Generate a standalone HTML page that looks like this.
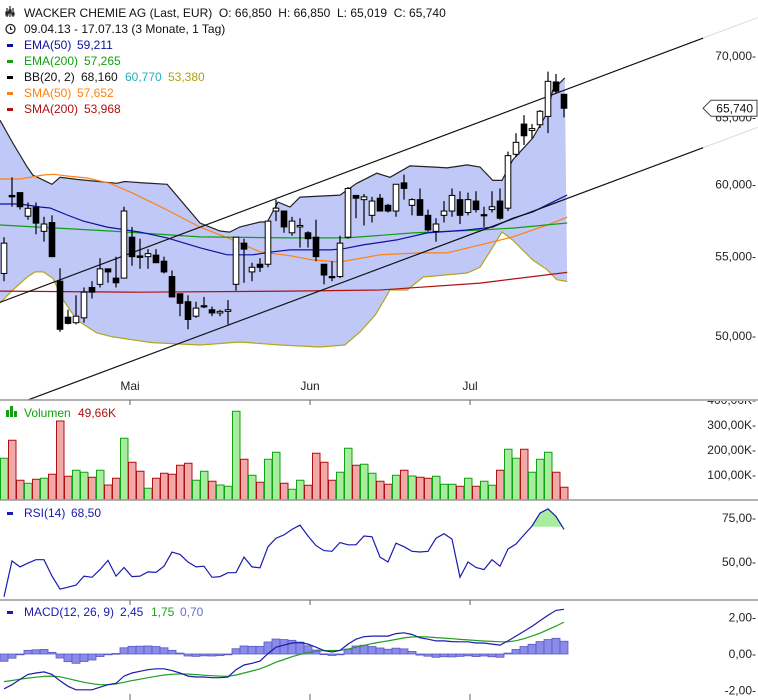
<!DOCTYPE html>
<html><head><meta charset="utf-8"><style>
html,body{margin:0;padding:0;background:#fff;width:758px;height:700px;overflow:hidden}
svg{display:block;font-family:"Liberation Sans",sans-serif}
svg text{white-space:pre}
</style></head><body>
<svg id="chart" width="758" height="700" viewBox="0 0 758 700" xmlns="http://www.w3.org/2000/svg">
<defs>
<clipPath id="pc"><rect x="0" y="0" width="758" height="400"/></clipPath>
<clipPath id="volClip"><rect x="0" y="401" width="758" height="299"/></clipPath>
</defs>
<g id="price" clip-path="url(#pc)"></g>
<g id="vol"></g>
<g id="rsi"></g>
<g id="macd"></g>
<g id="axes"></g>
<g font-size="12">
  <g stroke="#222" stroke-width="1.2">
    <line x1="7" y1="8" x2="7" y2="17"/><line x1="10" y1="6" x2="10" y2="17"/><line x1="13" y1="8" x2="13" y2="17"/>
    <rect x="6" y="12" width="2" height="3" fill="#222"/><rect x="9" y="10" width="2" height="3" fill="#222"/><rect x="12" y="13" width="2" height="2" fill="#222"/>
  </g>
  <text x="24" y="17" fill="#111">WACKER CHEMIE AG (Last, EUR)  O: 66,850  H: 66,850  L: 65,019  C: 65,740</text>
  <circle cx="10.5" cy="29" r="4.5" fill="none" stroke="#222" stroke-width="1.3"/>
  <path d="M10.5 26.5 V29.3 H12.5" fill="none" stroke="#222" stroke-width="1.2"/>
  <text x="24" y="33" fill="#111">09.04.13 - 17.07.13 (3 Monate, 1 Tag)</text>
  <rect x="7" y="44" width="6" height="3" fill="#1010a0"/>
  <text x="24" y="49" fill="#1010a0">EMA(50)<tspan x="77">59,211</tspan></text>
  <rect x="7" y="60" width="6" height="3" fill="#10a010"/>
  <text x="24" y="65" fill="#10a010">EMA(200)<tspan x="84">57,265</tspan></text>
  <rect x="7" y="76" width="6" height="3" fill="#000"/>
  <text x="24" y="81" fill="#111">BB(20, 2)<tspan x="81">68,160</tspan><tspan x="125" fill="#20b0c0">60,770</tspan><tspan x="168" fill="#b0a010">53,380</tspan></text>
  <rect x="7" y="92" width="6" height="3" fill="#ff8010"/>
  <text x="24" y="97" fill="#ff8010">SMA(50)<tspan x="77">57,652</tspan></text>
  <rect x="7" y="108" width="6" height="3" fill="#b01010"/>
  <text x="24" y="113" fill="#b01010">SMA(200)<tspan x="84">53,968</tspan></text>
</g>
<g font-size="12">
  <g fill="#10a010">
    <rect x="6" y="410" width="3" height="7"/><rect x="10" y="406" width="3" height="11"/><rect x="14" y="411" width="3" height="6"/>
  </g>
  <text x="24" y="417" fill="#10a010">Volumen<tspan x="78" fill="#b01010">49,66K</tspan></text>
  <rect x="7" y="512" width="6" height="3" fill="#1a1ab0"/>
  <text x="24" y="517" fill="#1a1ab0">RSI(14)<tspan x="71">68,50</tspan></text>
  <rect x="7" y="611" width="6" height="3" fill="#1a1ab0"/>
  <text x="24" y="616" fill="#1a1ab0">MACD(12, 26, 9)<tspan x="120">2,45</tspan><tspan x="151" fill="#20a020">1,75</tspan><tspan x="180" fill="#6a6ad0">0,70</tspan></text>
</g>
</svg>
<script>
// ---------- data ----------
const opens  = [53.9,59.2,59.4,57.74,58.36,56.7,57.3,53.4,51.14,50.8,51.1,53.0,53.2,54.2,53.6,53.6,56.3,55.05,55.0,55.1,54.7,53.7,52.6,52.1,51.2,51.85,51.6,51.4,51.5,53.2,55.9,54.0,54.5,54.5,58.1,58.1,56.6,57.0,56.6,56.3,54.5,53.7,53.7,56.3,59.2,58.9,57.8,59.0,58.5,58.1,60.1,58.5,58.9,57.8,56.7,57.8,58.1,58.9,58.0,58.8,57.85,58.2,58.8,58.3,62.2,64.5,64.0,64.45,65.1,67.85,66.85];
const highs  = [56.3,60.5,59.4,58.7,58.7,57.7,57.8,54.24,51.6,52.5,53.0,53.4,54.9,54.2,55.0,58.4,57.0,56.2,55.5,55.5,55.0,54.1,52.6,52.5,52.1,52.4,51.8,51.6,52.2,56.3,56.2,54.6,54.9,57.4,58.9,58.1,57.7,57.6,56.7,57.5,54.5,54.7,56.4,59.8,59.2,59.3,59.1,59.3,58.6,60.0,60.7,59.0,59.7,58.2,57.6,58.8,59.7,59.5,59.4,59.5,58.4,59.5,59.7,62.4,63.8,65.2,64.5,65.6,68.7,68.5,66.85];
const lows   = [53.4,58.4,58.2,57.5,56.5,56.0,55.0,50.25,50.7,50.7,50.8,52.3,53.0,53.3,53.0,53.6,54.4,54.2,54.2,54.6,53.9,52.4,51.2,50.4,51.1,51.7,51.2,51.2,50.7,52.8,53.3,53.4,54.0,54.3,57.4,56.6,56.4,55.6,55.6,54.7,53.2,53.4,53.6,56.2,57.6,57.1,57.3,58.1,58.0,57.7,58.9,57.8,57.8,56.7,56.0,57.3,57.7,57.2,57.8,58.0,57.0,58.0,57.5,58.1,62.0,62.9,63.4,64.2,63.8,66.9,65.02];
const closes = [55.9,59.1,58.4,58.29,57.26,57.2,55.0,50.4,50.76,51.2,52.7,52.7,54.2,54.0,53.3,58.1,55.0,54.95,55.2,54.6,54.0,52.4,52.0,51.0,51.7,51.8,51.4,51.5,51.6,56.3,55.5,54.3,54.3,57.4,58.3,57.0,57.4,57.1,56.2,55.0,53.8,53.65,55.9,59.7,59.0,59.1,58.8,58.1,58.1,60.0,59.7,58.9,57.8,56.8,57.2,58.1,59.2,57.8,58.9,58.2,57.8,58.4,57.6,62.1,63.1,63.6,64.15,65.5,67.9,67.1,65.74];
const volumes = [167,239,79,67,83,87,103,316,95,119,111,91,119,60,87,247,151,115,47,87,107,103,139,147,79,115,75,60,55,355,163,99,71,163,191,67,43,79,59,187,151,79,111,207,139,143,107,75,63,99,119,96,91,87,95,63,63,55,87,55,75,59,119,203,167,203,111,163,191,111,51];
const volUp = [1,0,0,1,0,1,0,0,0,1,1,0,1,0,0,1,0,0,1,0,0,0,0,0,1,1,0,1,1,1,0,1,0,1,1,0,1,1,0,0,0,0,1,1,0,1,1,0,0,1,0,1,0,0,1,1,1,0,1,0,1,1,0,1,1,0,1,1,1,0,0];
const rsiValues = [30.2,50.6,47.2,49.4,51.3,51.3,42,34.6,35.7,36.9,42,41.3,45.7,50.9,42,46.9,41.7,42,44.4,44.1,47.6,55.6,54.3,50,47.2,47.6,41.3,41.7,43.9,43.9,52.8,47.2,46.7,58.7,63.5,65.4,68.5,70.9,64.8,59.3,56.5,56.1,61.1,59.8,59.8,64.8,64.3,52.8,50,60.7,58.7,56.1,55.7,56.1,63.5,66.1,63,41.3,50,46.9,45.7,51.3,47.6,57.4,60.2,65.4,70.4,77.8,80.2,75.9,68.5];
const macdValues = [-1.91,-1.68,-1.39,-1.12,-1.04,-0.98,-1.12,-1.47,-1.77,-1.96,-1.96,-1.96,-1.82,-1.68,-1.61,-1.21,-1.04,-0.95,-0.86,-0.81,-0.81,-0.91,-1.04,-1.21,-1.26,-1.26,-1.3,-1.3,-1.26,-0.86,-0.6,-0.51,-0.39,0.02,0.37,0.49,0.6,0.63,0.54,0.37,0.19,0.11,0.19,0.54,0.81,0.95,0.98,0.98,0.98,1.12,1.16,1.07,0.89,0.81,0.72,0.72,0.68,0.67,0.67,0.6,0.6,0.54,0.49,0.72,0.98,1.25,1.51,1.82,2.12,2.39,2.45];
const signalValues = [-1.51,-1.45,-1.38,-1.32,-1.27,-1.23,-1.21,-1.25,-1.35,-1.45,-1.55,-1.63,-1.68,-1.68,-1.64,-1.55,-1.46,-1.38,-1.3,-1.22,-1.15,-1.11,-1.09,-1.1,-1.13,-1.16,-1.19,-1.21,-1.22,-1.15,-1.04,-0.93,-0.81,-0.64,-0.45,-0.3,-0.15,-0.02,0.09,0.15,0.18,0.19,0.2,0.27,0.37,0.47,0.57,0.65,0.72,0.8,0.88,0.93,0.95,0.93,0.9,0.87,0.84,0.8,0.77,0.74,0.71,0.69,0.67,0.67,0.73,0.84,0.98,1.14,1.33,1.53,1.75];
const bbUpperIdx = [-0.5,1.1,2.9,3.6,6,7,9.1,14.1,15.1,17.4,20.4,24.5,27,28.2,29.5,32,32.9,34.25,35.75,37,42,44.1,46.6,48.25,50.75,53.6,55.4,57.9,59.5,61.1,62.25,63.6,66.1,67.9,68.6,70.1];
const bbUpper    = [64.8,63.05,61.26,60.67,60.0,60.5,60.35,60.07,60.2,60.1,60.0,57.27,56.72,56.65,57.0,57.34,57.34,58.73,58.38,59.08,59.22,60.07,60.8,60.5,61.34,61.26,61.19,61.41,61.26,60.28,60.28,61.78,63.43,65.37,67.2,68.18];
const bbLowerIdx = [-0.5,1.1,2.9,3.9,4.9,6.1,7.4,9.1,11.6,13.6,18.5,24.5,29.5,34.5,39.5,42.6,44.5,46.4,47.6,48.25,50.4,52.4,57.9,59.5,61.1,62.25,63.6,66.1,67.9,69.1,70.4];
const bbLower    = [52.02,52.84,53.67,54.0,54.0,53.6,52.21,50.97,50.18,49.94,49.6,49.46,49.64,49.46,49.34,49.46,50.24,51.27,52.27,52.84,52.84,53.67,53.93,54.3,55.64,56.66,56.1,54.78,54.14,53.5,53.38];
const ema50Idx = [-0.5,2,4.5,5.75,7.9,9.9,12.9,17,20.4,24.5,27.9,31.1,33.6,35.75,40.75,42.4,44.9,49.1,52.9,57.9,61.1,63.6,66.1,69.1,70.4];
const ema50    = [58.59,58.59,58.38,58.31,57.82,57.4,56.99,56.65,56.25,55.59,55.12,55.12,55.32,55.45,55.45,55.52,55.78,56.12,56.59,56.79,56.99,57.6,58.04,58.87,59.22];
const ema200Idx = [-0.5,13.25,24.5,35.75,42.9,51.1,59.5,63.6,70.4];
const ema200    = [57.13,56.72,56.32,56.25,56.25,56.59,56.79,56.92,57.27];
const sma50Idx = [-0.5,2,4.9,6.25,7.9,10.4,13.25,16.1,20.4,24.5,28.6,32,35.75,38.6,42,47,52,55.4,59.5,63.6,67.9,70.4];
const sma50    = [60.38,60.38,60.67,60.72,60.6,60.45,60.07,59.36,58.17,56.99,56.12,55.32,55.06,54.78,54.65,55.12,55.25,55.25,55.78,56.32,57.13,57.67];
const sma200Idx = [-0.5,17,35.75,47,59.5,70.4];
const sma200    = [52.77,52.7,52.77,52.84,53.28,53.97];
const trendUpperIdx = [-0.5,87.4];
const trendUpper = [52.06,71.53];
const trendLowerIdx = [3,87.4];
const trendLower = [46.3,62.7];
const priceTicks = [70,65,60,55,50];
const priceTickLabels = ["70,000","65,000","60,000","55,000","50,000"];
const volTicks = [400,300,200,100];
const volTickLabels = ["400,00K","300,00K","200,00K","100,00K"];
const rsiTicks = [75,50];
const rsiTickLabels = ["75,00","50,00"];
const macdTicks = [2,0,-2];
const macdTickLabels = ["2,00","0,00","-2,00"];
const monthIdx = [15.75,38.25,58.25];
const monthLabels = ["Mai","Jun","Jul"];
const lastPrice = 65.74;
const rsiOverbought = 70;

// ---------- scales ----------
const X = i => 4 + 8*i;
const Yp = p => 56 + 832*Math.log(70/p);
const Yv = v => 500 - v*0.25;
const Yr = r => 518 + (75-r)*44/25;
const Ym = m => 654 - m*18.25;
const NS = "http://www.w3.org/2000/svg";
function mk(tag, attrs, parent){const e=document.createElementNS(NS,tag);for(const k in attrs)e.setAttribute(k,attrs[k]);parent.appendChild(e);return e;}
const fmt = (xs, ys, fy) => xs.map((v,i)=>X(v).toFixed(1)+","+fy(ys[i]).toFixed(1)).join(" ");

const gP = document.getElementById('price');
let bbPts = bbUpperIdx.map((v,i)=>X(v).toFixed(1)+","+Yp(bbUpper[i]).toFixed(1));
for(let i=bbLowerIdx.length-1;i>=0;i--) bbPts.push(X(bbLowerIdx[i]).toFixed(1)+","+Yp(bbLower[i]).toFixed(1));
let el = mk('polygon',{points:bbPts.join(" "),fill:"#c0c8f8",stroke:"none"},gP);


el = mk('polyline',{points:fmt(bbUpperIdx,bbUpper,Yp),fill:"none",stroke:"#222",'stroke-width':1.2},gP);


el = mk('polyline',{points:fmt(bbLowerIdx,bbLower,Yp),fill:"none",stroke:"#b0a818",'stroke-width':1.2},gP);


el = mk('polyline',{points:fmt(sma200Idx,sma200,Yp),fill:"none",stroke:"#b01010",'stroke-width':1.2},gP);


el = mk('polyline',{points:fmt(sma50Idx,sma50,Yp),fill:"none",stroke:"#ff8010",'stroke-width':1.2},gP);


el = mk('polyline',{points:fmt(ema200Idx,ema200,Yp),fill:"none",stroke:"#10a010",'stroke-width':1.2},gP);


el = mk('polyline',{points:fmt(ema50Idx,ema50,Yp),fill:"none",stroke:"#1010a0",'stroke-width':1.2},gP);


function trend(xs, ys, name){
  const x1=X(xs[0]),y1=Yp(ys[0]),x2=X(xs[1]),y2=Yp(ys[1]);
  const s=(y2-y1)/(x2-x1);
  let t = mk('line',{x1:x1,y1:y1,x2:x2,y2:y2,stroke:"#111",'stroke-width':1.2},gP);
  
  
  t = mk('line',{x1:x2,y1:y2,x2:758,y2:y2+s*(758-x2),stroke:"#ddd",'stroke-width':1},gP);
  
  
}
trend(trendUpperIdx,trendUpper,'upper-trend-line');
trend(trendLowerIdx,trendLower,'lower-trend-line');
for(let i=0;i<opens.length;i++){
  const x=X(i), up=closes[i]>=opens[i];
  const g=mk('g',{},gP);
  
  
  mk('line',{x1:x,y1:Yp(highs[i]),x2:x,y2:Yp(lows[i]),stroke:"#000",'stroke-width':1.2},g);
  const yt=Yp(Math.max(opens[i],closes[i])), yb=Yp(Math.min(opens[i],closes[i]));
  mk('rect',{x:x-2.8,y:yt,width:5.6,height:Math.max(1.2,yb-yt),fill:up?"#fff":"#000",stroke:"#000",'stroke-width':1},g);
}

const gV=document.getElementById('vol');
for(let i=0;i<volumes.length;i++){
  const up=volUp[i]===1, y=Math.max(401,Yv(volumes[i]));
  el = mk('rect',{x:X(i)-3.5,y:y,width:7.5,height:500-y,fill:up?"#a8eca0":"#f0a8a8",stroke:up?"#10a010":"#b01010",'stroke-width':1},gV);
  
  
}
const gR=document.getElementById('rsi');
// overbought fill: polygons for runs above threshold
let run=null;
const flush=()=>{ if(run && run.length>2){
  const p=mk('polygon',{points:run.map(q=>q[0].toFixed(1)+","+q[1].toFixed(1)).join(" "),fill:"#a8eca0",stroke:"none"},gR);
  
  
 } run=null; };
for(let i=0;i<rsiValues.length;i++){
  const v=rsiValues[i];
  if(i>0){
    const pv=rsiValues[i-1];
    if((pv-rsiOverbought)*(v-rsiOverbought)<0){
      const t=(rsiOverbought-pv)/(v-pv), cx=X(i-1+t), cy=Yr(rsiOverbought);
      if(v>rsiOverbought){ run=[[cx,cy]]; } else { run.push([cx,cy]); flush(); }
    }
  }
  if(v>rsiOverbought){ if(!run) run=[[X(i),Yr(rsiOverbought)]]; run.push([X(i),Yr(v)]); }
}
if(run){ run.push([X(rsiValues.length-1),Yr(rsiOverbought)]); flush(); }
el = mk('polyline',{points:rsiValues.map((v,i)=>X(i).toFixed(1)+","+Yr(v).toFixed(1)).join(" "),fill:"none",stroke:"#1a1ab0",'stroke-width':1.2},gR);


const gM=document.getElementById('macd');
for(let i=0;i<macdValues.length;i++){
  const h=macdValues[i]-signalValues[i];
  const y0=Ym(0), y1=Ym(h);
  el = mk('rect',{x:X(i)-4,y:Math.min(y0,y1),width:8,height:Math.max(0.8,Math.abs(y1-y0)),fill:"#8a8ae8",stroke:"#5a5ac8",'stroke-width':0.8},gM);
  
  
}
el = mk('polyline',{points:fmt(macdValues.map((v,i)=>i),signalValues,Ym),fill:"none",stroke:"#20a020",'stroke-width':1.2},gM);


el = mk('polyline',{points:fmt(macdValues.map((v,i)=>i),macdValues,Ym),fill:"none",stroke:"#1a1ab0",'stroke-width':1.2},gM);



const gA=document.getElementById('axes');
[400,500,600].forEach(y=>{
  el = mk('line',{x1:0,y1:y,x2:758,y2:y,stroke:"#999",'stroke-width':1.5},gA);
  
  
});
function ticks(vals, labels, fy, name, clip){
  vals.forEach((v,i)=>{
    const t=mk('text',{x:756,y:fy(v)+4,'text-anchor':"end",'font-size':"12",fill:"#222"},gA);
    if(clip) t.setAttribute('clip-path',clip);
    t.textContent=labels[i]+"-";
    
    
  });
}
ticks(priceTicks,priceTickLabels,Yp,'price-tick-label');
ticks(volTicks,volTickLabels,Yv,'volume-tick-label','url(#volClip)');
ticks(rsiTicks,rsiTickLabels,Yr,'rsi-tick-label');
ticks(macdTicks,macdTickLabels,Ym,'macd-tick-label');
monthIdx.forEach((m,i)=>{
  const x=X(m);
  const t=mk('text',{x:x,y:390,'text-anchor':"middle",'font-size':"12",fill:"#222"},gA);
  t.textContent=monthLabels[i];
  
  
  [[400,405],[600,605],[694,700]].forEach(r=>mk('line',{x1:x,y1:r[0],x2:x,y2:r[1],stroke:"#666"},gA));
});
const yl=Yp(lastPrice);
el = mk('path',{d:"M703 "+yl+" L711 "+(yl-8)+" H757 V"+(yl+8)+" H711 Z",fill:"#fff",stroke:"#444",'stroke-width':1},gA);


el = mk('text',{x:753,y:yl+4.5,'text-anchor':"end",'font-size':"12",fill:"#111"},gA);
el.textContent="65,740";


</script>
</body></html>
